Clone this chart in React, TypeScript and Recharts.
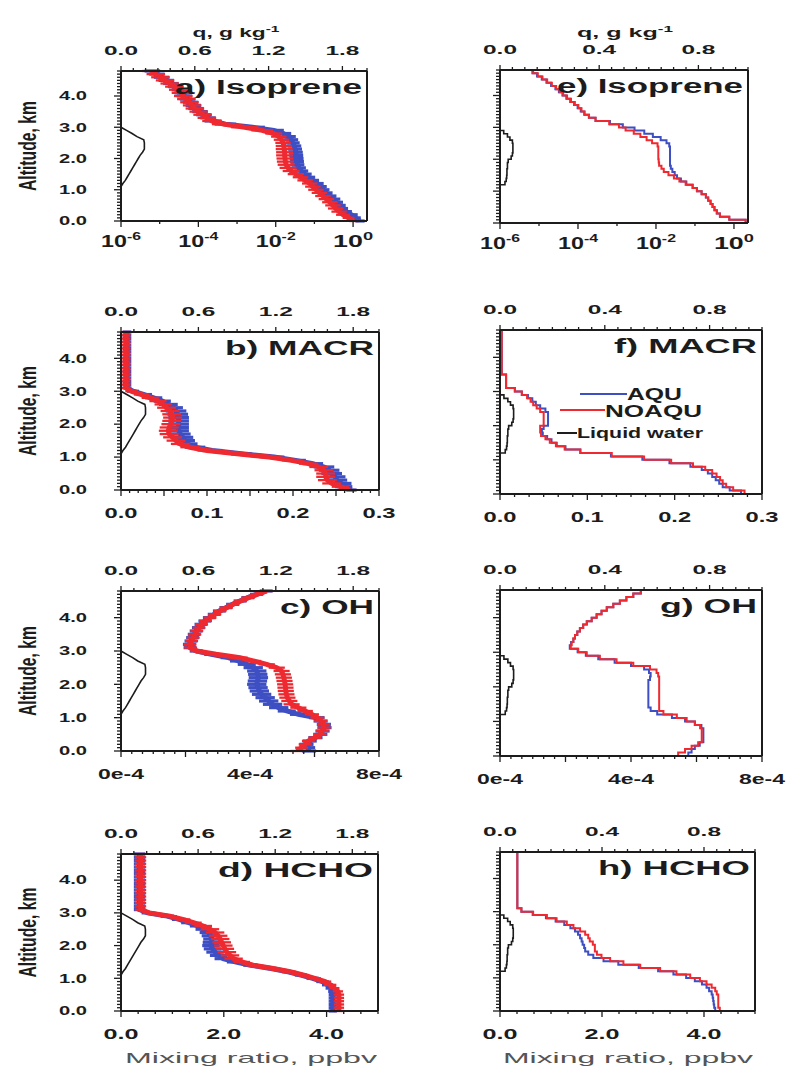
import React from "react";
import { ComposedChart, Line, XAxis, YAxis, ErrorBar } from "recharts";

// ---------------- data (altitude levels, km) ----------------
const ALT = [
  0.0, 0.1, 0.2, 0.3, 0.4, 0.5, 0.6, 0.7, 0.8, 0.9,
  1.0, 1.1, 1.2, 1.3, 1.4, 1.5, 1.6, 1.7, 1.8, 1.9,
  2.0, 2.1, 2.2, 2.3, 2.4, 2.5, 2.6, 2.7, 2.8, 2.9,
  3.0, 3.1, 3.2, 3.3, 3.4, 3.5, 3.6, 3.7, 3.8, 3.9,
  4.0, 4.1, 4.2, 4.3, 4.4, 4.5, 4.6, 4.7, 4.8,
];

// Isoprene (log10 of ppbv) – left panel mean & spread (decades)
const ISO_L_AQU = [
  0.18, 0.06, -0.04, -0.2, -0.3, -0.36, -0.43, -0.5, -0.6, -0.7,
  -0.78, -0.85, -0.93, -1.05, -1.15, -1.25, -1.34, -1.4, -1.44, -1.45,
  -1.46, -1.47, -1.48, -1.5, -1.52, -1.56, -1.6, -1.66, -1.8, -2.05,
  -2.6, -3.3, -3.62, -3.75, -3.86, -3.96, -4.06, -4.13, -4.2, -4.28,
  -4.36, -4.42, -4.49, -4.59, -4.71, -4.83, -4.95, -5.07, -5.19,
];
const ISO_L_NOAQU = [
  0.02, -0.12, -0.26, -0.36, -0.45, -0.52, -0.6, -0.69, -0.78, -0.87,
  -0.96, -1.04, -1.12, -1.24, -1.36, -1.48, -1.6, -1.68, -1.73, -1.75,
  -1.76, -1.77, -1.77, -1.78, -1.79, -1.81, -1.85, -1.92, -2.05, -2.35,
  -2.8, -3.35, -3.65, -3.78, -3.89, -3.99, -4.09, -4.16, -4.23, -4.31,
  -4.39, -4.45, -4.52, -4.62, -4.74, -4.86, -4.98, -5.1, -5.22,
];
const ISO_L_AQU_ERR = [
  0.12, 0.14, 0.16, 0.17, 0.17, 0.17, 0.17, 0.17, 0.17, 0.17,
  0.17, 0.17, 0.17, 0.17, 0.17, 0.18, 0.18, 0.18, 0.18, 0.18,
  0.18, 0.18, 0.18, 0.18, 0.18, 0.18, 0.18, 0.18, 0.2, 0.26,
  0.32, 0.28, 0.22, 0.2, 0.2, 0.2, 0.2, 0.2, 0.2, 0.2,
  0.2, 0.2, 0.2, 0.2, 0.2, 0.2, 0.2, 0.2, 0.2,
];
const ISO_L_NOAQU_ERR = [
  0.12, 0.15, 0.18, 0.2, 0.2, 0.2, 0.2, 0.2, 0.2, 0.2,
  0.2, 0.2, 0.2, 0.2, 0.2, 0.21, 0.22, 0.22, 0.22, 0.22,
  0.22, 0.22, 0.22, 0.22, 0.21, 0.2, 0.2, 0.2, 0.22, 0.28,
  0.35, 0.3, 0.25, 0.24, 0.24, 0.24, 0.24, 0.24, 0.24, 0.24,
  0.24, 0.24, 0.24, 0.24, 0.24, 0.24, 0.24, 0.24, 0.24,
];
const ISO_R_AQU = [
  0.3, -0.12, -0.36, -0.44, -0.5, -0.55, -0.6, -0.66, -0.72, -0.83,
  -0.95, -1.06, -1.22, -1.36, -1.46, -1.52, -1.58, -1.62, -1.64, -1.64,
  -1.64, -1.64, -1.64, -1.64, -1.66, -1.73, -1.88, -2.08, -2.3, -2.55,
  -2.85, -3.18, -3.55, -3.72, -3.84, -3.93, -4.01, -4.1, -4.2, -4.3,
  -4.4, -4.49, -4.58, -4.69, -4.81, -4.93, -5.05, -5.17, -5.29,
];
const ISO_R_NOAQU = [
  0.3, -0.12, -0.36, -0.44, -0.5, -0.55, -0.6, -0.66, -0.72, -0.83,
  -0.95, -1.06, -1.24, -1.4, -1.54, -1.68, -1.8, -1.86, -1.92, -1.93,
  -1.94, -1.94, -1.94, -1.94, -1.96, -2.1, -2.24, -2.4, -2.57, -2.78,
  -2.95, -3.2, -3.55, -3.72, -3.83, -3.91, -3.99, -4.08, -4.18, -4.28,
  -4.38, -4.47, -4.56, -4.67, -4.79, -4.91, -5.03, -5.15, -5.27,
];

// MACR (ppbv)
const MACR_L_AQU = [
  0.268, 0.259, 0.256, 0.251, 0.249, 0.245, 0.242, 0.236, 0.223, 0.203,
  0.178, 0.14, 0.106, 0.086, 0.077, 0.074, 0.072, 0.069, 0.067, 0.067,
  0.067, 0.067, 0.067, 0.066, 0.064, 0.061, 0.055, 0.048, 0.038, 0.027,
  0.014, 0.007, 0.007, 0.007, 0.007, 0.007, 0.007, 0.007, 0.007, 0.007,
  0.007, 0.007, 0.007, 0.007, 0.007, 0.007, 0.007, 0.007, 0.007,
];
const MACR_L_NOAQU = [
  0.266, 0.255, 0.245, 0.24, 0.238, 0.238, 0.236, 0.23, 0.218, 0.198,
  0.172, 0.135, 0.1, 0.08, 0.069, 0.064, 0.06, 0.056, 0.055, 0.056,
  0.058, 0.059, 0.06, 0.059, 0.057, 0.053, 0.049, 0.043, 0.034, 0.024,
  0.012, 0.006, 0.006, 0.006, 0.006, 0.006, 0.006, 0.006, 0.006, 0.006,
  0.006, 0.006, 0.006, 0.006, 0.006, 0.006, 0.006, 0.006, 0.006,
];
const MACR_L_AQU_ERR = [
  0.006, 0.01, 0.012, 0.012, 0.012, 0.012, 0.012, 0.012, 0.012, 0.012,
  0.012, 0.012, 0.012, 0.012, 0.012, 0.012, 0.012, 0.012, 0.012, 0.012,
  0.012, 0.012, 0.012, 0.012, 0.012, 0.011, 0.011, 0.01, 0.01, 0.009,
  0.007, 0.005, 0.005, 0.005, 0.005, 0.005, 0.005, 0.005, 0.005, 0.005,
  0.005, 0.005, 0.005, 0.005, 0.005, 0.005, 0.005, 0.005, 0.005,
];
const MACR_L_NOAQU_ERR = [
  0.006, 0.01, 0.011, 0.011, 0.011, 0.011, 0.011, 0.011, 0.011, 0.011,
  0.011, 0.011, 0.011, 0.011, 0.011, 0.011, 0.011, 0.011, 0.011, 0.011,
  0.011, 0.011, 0.011, 0.011, 0.011, 0.011, 0.01, 0.01, 0.01, 0.009,
  0.007, 0.005, 0.005, 0.005, 0.005, 0.005, 0.005, 0.005, 0.005, 0.005,
  0.005, 0.005, 0.005, 0.005, 0.005, 0.005, 0.005, 0.005, 0.005,
];
const MACR_R_AQU = [
  0.276, 0.263, 0.255, 0.251, 0.247, 0.243, 0.238, 0.231, 0.218, 0.194,
  0.163, 0.127, 0.092, 0.075, 0.065, 0.059, 0.054, 0.049, 0.048, 0.05,
  0.055, 0.055, 0.055, 0.055, 0.052, 0.046, 0.041, 0.037, 0.032, 0.025,
  0.017, 0.007, 0.007, 0.007, 0.007, 0.002, 0.002, 0.002, 0.002, 0.002,
  0.002, 0.002, 0.002, 0.002, 0.002, 0.002, 0.002, 0.002, 0.002,
];
const MACR_R_NOAQU = [
  0.28, 0.267, 0.259, 0.255, 0.252, 0.248, 0.243, 0.235, 0.221, 0.196,
  0.165, 0.128, 0.092, 0.074, 0.064, 0.057, 0.052, 0.047, 0.046, 0.046,
  0.05, 0.05, 0.05, 0.05, 0.046, 0.042, 0.038, 0.035, 0.031, 0.025,
  0.017, 0.007, 0.007, 0.007, 0.007, 0.002, 0.002, 0.002, 0.002, 0.002,
  0.002, 0.002, 0.002, 0.002, 0.002, 0.002, 0.002, 0.002, 0.002,
];

// OH (units of 1e-4 ppbv)
const OH_L_AQU = [
  5.83, 5.8, 5.75, 5.85, 6.03, 6.18, 6.25, 6.31, 6.29, 6.19,
  6.07, 5.5, 5.14, 4.89, 4.7, 4.58, 4.47, 4.36, 4.29, 4.25,
  4.21, 4.23, 4.26, 4.24, 4.21, 4.1, 3.9, 3.64, 3.33, 2.8,
  2.33, 2.14, 2.12, 2.17, 2.22, 2.27, 2.33, 2.4, 2.48, 2.6,
  2.74, 2.89, 3.05, 3.25, 3.46, 3.69, 3.93, 4.2, 4.5,
];
const OH_L_NOAQU = [
  5.45, 5.6, 5.71, 5.81, 6.01, 6.17, 6.24, 6.3, 6.28, 6.19,
  6.09, 5.92, 5.71, 5.5, 5.29, 5.22, 5.16, 5.13, 5.11, 5.1,
  5.09, 5.07, 5.05, 5.02, 4.98, 4.83, 4.52, 4.1, 3.69, 2.95,
  2.35, 2.16, 2.14, 2.19, 2.24, 2.29, 2.35, 2.42, 2.5, 2.62,
  2.76, 2.91, 3.07, 3.27, 3.48, 3.71, 3.95, 4.22, 4.52,
];
const OH_L_AQU_ERR = [
  0.22, 0.22, 0.22, 0.22, 0.22, 0.22, 0.22, 0.22, 0.22, 0.22,
  0.24, 0.26, 0.28, 0.3, 0.3, 0.3, 0.3, 0.3, 0.3, 0.3,
  0.3, 0.3, 0.3, 0.3, 0.3, 0.3, 0.28, 0.26, 0.24, 0.22,
  0.2, 0.2, 0.2, 0.2, 0.2, 0.2, 0.2, 0.2, 0.2, 0.2,
  0.2, 0.2, 0.2, 0.2, 0.2, 0.2, 0.2, 0.2, 0.2,
];
const OH_L_NOAQU_ERR = [
  0.2, 0.2, 0.2, 0.2, 0.2, 0.2, 0.2, 0.2, 0.2, 0.2,
  0.22, 0.22, 0.24, 0.25, 0.25, 0.25, 0.25, 0.25, 0.25, 0.25,
  0.25, 0.25, 0.25, 0.25, 0.25, 0.25, 0.25, 0.25, 0.24, 0.22,
  0.2, 0.2, 0.2, 0.2, 0.2, 0.2, 0.2, 0.2, 0.2, 0.2,
  0.2, 0.2, 0.2, 0.2, 0.2, 0.2, 0.2, 0.2, 0.2,
];
const OH_R_AQU = [
  5.75, 5.85, 5.95, 6.1, 6.21, 6.21, 6.21, 6.21, 6.15, 5.95,
  5.65, 5.25, 4.8, 4.6, 4.53, 4.53, 4.53, 4.53, 4.53, 4.53,
  4.53, 4.53, 4.58, 4.6, 4.55, 4.4, 4.0, 3.5, 3.0, 2.62,
  2.37, 2.13, 2.17, 2.24, 2.29, 2.36, 2.44, 2.54, 2.65, 2.8,
  2.95, 3.1, 3.26, 3.46, 3.66, 3.86, 4.07, 4.3, 4.53,
];
const OH_R_NOAQU = [
  5.44, 5.65, 5.85, 6.05, 6.16, 6.16, 6.16, 6.16, 6.11, 5.95,
  5.7, 5.4, 4.99, 4.86, 4.86, 4.86, 4.86, 4.86, 4.86, 4.86,
  4.86, 4.86, 4.86, 4.83, 4.78, 4.58, 4.07, 3.56, 3.05, 2.65,
  2.39, 2.16, 2.19, 2.24, 2.29, 2.36, 2.44, 2.54, 2.65, 2.8,
  2.95, 3.1, 3.26, 3.46, 3.66, 3.86, 4.07, 4.3, 4.53,
];

// HCHO (ppbv)
const HCHO_L_AQU = [
  4.12, 4.12, 4.12, 4.12, 4.12, 4.12, 4.12, 4.08, 4.02, 3.92,
  3.73, 3.5, 3.25, 2.92, 2.52, 2.22, 1.99, 1.9, 1.83, 1.78,
  1.75, 1.76, 1.77, 1.74, 1.7, 1.61, 1.5, 1.32, 1.13, 0.9,
  0.52, 0.36, 0.36, 0.36, 0.36, 0.36, 0.36, 0.36, 0.36, 0.36,
  0.36, 0.36, 0.36, 0.36, 0.36, 0.36, 0.36, 0.36, 0.36,
];
const HCHO_L_NOAQU = [
  4.24, 4.24, 4.24, 4.24, 4.24, 4.24, 4.22, 4.15, 4.07, 3.97,
  3.77, 3.54, 3.29, 2.96, 2.57, 2.35, 2.19, 2.12, 2.06, 2.02,
  1.99, 1.96, 1.93, 1.89, 1.83, 1.73, 1.6, 1.41, 1.2, 0.95,
  0.55, 0.38, 0.38, 0.38, 0.38, 0.38, 0.38, 0.38, 0.38, 0.38,
  0.38, 0.38, 0.38, 0.38, 0.38, 0.38, 0.38, 0.38, 0.38,
];
const HCHO_L_AQU_ERR = [
  0.08, 0.08, 0.08, 0.08, 0.08, 0.08, 0.09, 0.1, 0.11, 0.12,
  0.12, 0.12, 0.12, 0.12, 0.14, 0.16, 0.17, 0.17, 0.17, 0.17,
  0.17, 0.17, 0.17, 0.17, 0.17, 0.16, 0.16, 0.15, 0.14, 0.13,
  0.12, 0.11, 0.11, 0.11, 0.11, 0.11, 0.11, 0.11, 0.11, 0.11,
  0.11, 0.11, 0.11, 0.11, 0.11, 0.11, 0.11, 0.11, 0.11,
];
const HCHO_L_NOAQU_ERR = [
  0.1, 0.1, 0.1, 0.1, 0.1, 0.1, 0.1, 0.1, 0.12, 0.12,
  0.12, 0.12, 0.12, 0.12, 0.14, 0.16, 0.18, 0.18, 0.18, 0.18,
  0.18, 0.18, 0.18, 0.18, 0.18, 0.18, 0.17, 0.16, 0.15, 0.14,
  0.12, 0.11, 0.11, 0.11, 0.11, 0.11, 0.11, 0.11, 0.11, 0.11,
  0.11, 0.11, 0.11, 0.11, 0.11, 0.11, 0.11, 0.11, 0.11,
];
const HCHO_R_AQU = [
  4.22, 4.2, 4.19, 4.18, 4.17, 4.15, 4.1, 4.05, 3.96, 3.82,
  3.65, 3.4, 3.1, 2.72, 2.32, 2.03, 1.83, 1.73, 1.67, 1.65,
  1.62, 1.6, 1.57, 1.53, 1.47, 1.38, 1.26, 1.09, 0.9, 0.64,
  0.42, 0.34, 0.34, 0.34, 0.34, 0.34, 0.34, 0.34, 0.34, 0.34,
  0.34, 0.34, 0.34, 0.34, 0.34, 0.34, 0.34, 0.34, 0.34,
];
const HCHO_R_NOAQU = [
  4.31, 4.28, 4.28, 4.28, 4.28, 4.25, 4.22, 4.15, 4.05, 3.92,
  3.73, 3.46, 3.14, 2.75, 2.42, 2.16, 1.99, 1.9, 1.86, 1.86,
  1.82, 1.76, 1.73, 1.67, 1.57, 1.44, 1.31, 1.11, 0.92, 0.65,
  0.42, 0.34, 0.34, 0.34, 0.34, 0.34, 0.34, 0.34, 0.34, 0.34,
  0.34, 0.34, 0.34, 0.34, 0.34, 0.34, 0.34, 0.34, 0.34,
];

// Liquid water, q (g/kg)
const N = null;
const LW_LEFT = [
  N, N, N, N, N, N, N, N, N, N,
  N, 0, 0.015, 0.035, 0.05, 0.065, 0.08, 0.095, 0.11, 0.125,
  0.14, 0.155, 0.175, 0.19, 0.19, 0.19, 0.185, 0.13, 0.09, 0.045,
  0, N, N, N, N, N, N, N, N, N,
  N, N, N, N, N, N, N, N, N,
];
const LW_RIGHT = [
  N, N, N, N, N, N, N, N, N, N,
  N, 0, 0.02, 0.025, 0.027, 0.028, 0.028, 0.03, 0.03, 0.033,
  0.045, 0.05, 0.052, 0.052, 0.052, 0.05, 0.04, 0.03, 0.015, 0,
  N, N, N, N, N, N, N, N, N, N,
  N, N, N, N, N, N, N, N, N,
];

// tick labels
const ALT_LABELS = [0, 1, 2, 3, 4];
const ISO_LABELS = [1e-6, 1e-4, 1e-2, 1];
const ISO_TICKS = [1e-6, 1e-5, 1e-4, 1e-3, 1e-2, 1e-1, 1];
const MACR_LABELS = [0, 0.1, 0.2, 0.3];
const OH_LABELS = [0, 4, 8];
const HCHO_LABELS = [0, 2, 4];
const Q_LEFT_LABELS = [0, 0.6, 1.2, 1.8];
const Q_RIGHT_LABELS = [0, 0.4, 0.8];

// ---------------- styling helpers ----------------
const BLUE = "#3d4fc2";
const RED = "#ee2a30";
const INK = "#1c1c1c";
const FONT = '"Liberation Sans", Arial, Helvetica, sans-serif';

function ticksBetween(a: number, b: number, n: number): number[] {
  const out: number[] = [];
  for (let i = 0; i <= n; i++) out.push(Math.round((a + ((b - a) * i) / n) * 1e6) / 1e6);
  return out;
}
const has = (arr: number[], v: number) =>
  arr.some((a) => Math.abs(a - v) <= 1e-6 * Math.max(Math.abs(a), 1e-9) + 1e-12);

function SText(props: any) {
  const { x, y, w, fs, anchor = "middle", weight = "bold", fill = INK, rotate, sup, children } = props;
  return (
    <text
      x={x}
      y={y}
      fontSize={fs}
      fontFamily={FONT}
      fontWeight={weight}
      fill={fill}
      textAnchor={anchor}
      textLength={w}
      lengthAdjust="spacingAndGlyphs"
      transform={rotate ? `rotate(${rotate} ${x} ${y})` : undefined}
    >
      {children}
      {sup ? (
        <tspan dy={-fs * 0.42} fontSize={fs * 0.68}>
          {sup}
        </tspan>
      ) : null}
    </text>
  );
}

type AxisCfg = {
  domain: [number, number];
  log?: boolean;
  ticks: number[];
  majors: number[];
  labels: number[];
  fmt: (v: number) => { main: string; sup?: string };
  w: number;
  fs: number;
  dy: number;
};

const dec1 = (v: number) => ({ main: v.toFixed(1) });
const ISO_AXIS: AxisCfg = {
  domain: [1e-6, 2.29], log: true, ticks: ISO_TICKS, majors: ISO_LABELS, labels: ISO_LABELS,
  fmt: (v) => ({ main: "10", sup: String(Math.round(Math.log10(v))) }), w: 40, fs: 16.5, dy: 26,
};
const MACR_L_AXIS: AxisCfg = {
  domain: [0, 0.3], ticks: ticksBetween(0, 0.3, 30), majors: ticksBetween(0, 0.3, 6), labels: MACR_LABELS,
  fmt: dec1, w: 33, fs: 14.5, dy: 28,
};
const MACR_R_AXIS: AxisCfg = { ...MACR_L_AXIS, ticks: ticksBetween(0, 0.3, 18), majors: MACR_LABELS };
const OH_AXIS: AxisCfg = {
  domain: [0, 8], ticks: ticksBetween(0, 8, 24), majors: [0, 2, 4, 6, 8], labels: OH_LABELS,
  fmt: (v) => ({ main: `${Math.round(v)}e-4` }), w: 46, fs: 14.5, dy: 28,
};
const HCHO_AXIS: AxisCfg = {
  domain: [0, 5], ticks: ticksBetween(0, 5, 15), majors: HCHO_LABELS, labels: HCHO_LABELS,
  fmt: dec1, w: 35, fs: 14.5, dy: 28,
};
const Q_LEFT: AxisCfg = {
  domain: [0, 2], ticks: ticksBetween(0, 2, 20), majors: Q_LEFT_LABELS, labels: Q_LEFT_LABELS,
  fmt: dec1, w: 34, fs: 12.5, dy: -16,
};
const Q_RIGHT: AxisCfg = {
  domain: [0, 1], ticks: ticksBetween(0, 1, 20), majors: Q_RIGHT_LABELS, labels: Q_RIGHT_LABELS,
  fmt: dec1, w: 34, fs: 12.5, dy: -16,
};

function bandRows(aqu: number[], noaqu: number[], aquErr: number[], noaquErr: number[], log: boolean) {
  return ALT.map((alt, i) => {
    if (log) {
      const a = Math.pow(10, aqu[i]);
      const n = Math.pow(10, noaqu[i]);
      const ea = Math.pow(10, aquErr[i]);
      const en = Math.pow(10, noaquErr[i]);
      return { alt, aqu: a, noaqu: n, aquE: [a - a / ea, a * ea - a], noaquE: [n - n / en, n * en - n], lw: LW_LEFT[i] };
    }
    return { alt, aqu: aqu[i], noaqu: noaqu[i], aquE: aquErr[i], noaquE: noaquErr[i], lw: LW_LEFT[i] };
  });
}
function lineRows(aqu: number[], noaqu: number[], log: boolean) {
  return ALT.map((alt, i) => ({
    alt,
    aqu: log ? Math.pow(10, aqu[i]) : aqu[i],
    noaqu: log ? Math.pow(10, noaqu[i]) : noaqu[i],
    lw: LW_RIGHT[i],
  }));
}

type Box = { x: number; y: number; w: number; h: number };
type PanelCfg = {
  cl: number;
  box: Box;
  rows: any[];
  band: boolean;
  bottom: AxisCfg;
  top: AxisCfg;
  yLabels: boolean;
  title: string;
  titleW: number;
  q?: { cx: number; w: number };
  mix?: { cx: number; w: number };
  legend?: boolean;
};

function Panel({ cfg }: { cfg: PanelCfg }) {
  const { cl, box } = cfg;
  const T = 60;
  const R = 30;
  const B = cfg.mix ? 58 : 40;
  const L = box.x - cl;
  const ct = box.y - T;
  const W = L + box.w + R;
  const H = T + box.h + B;
  const rx = (ax: number) => ax - cl;
  const ry = (ay: number) => ay - ct;
  const axisLine = { stroke: INK, strokeWidth: 2 };

  const bottomTick = (p: any) => {
    const { x, y, payload } = p;
    const v = payload.value as number;
    const major = has(cfg.bottom.majors, v);
    const lab = has(cfg.bottom.labels, v);
    const f = cfg.bottom.fmt(v);
    return (
      <g>
        <line x1={x} x2={x} y1={y} y2={y + (major ? 6 : 3)} stroke={INK} strokeWidth={1.3} />
        {lab ? (
          <SText x={x} y={y + cfg.bottom.dy} w={cfg.bottom.w} fs={cfg.bottom.fs} sup={f.sup}>
            {f.main}
          </SText>
        ) : null}
      </g>
    );
  };
  const topTick = (p: any) => {
    const { x, y, payload } = p;
    const v = payload.value as number;
    const major = has(cfg.top.majors, v);
    const lab = has(cfg.top.labels, v);
    return (
      <g>
        <line x1={x} x2={x} y1={y} y2={y - (major ? 5 : 3)} stroke={INK} strokeWidth={1.3} />
        {lab ? (
          <SText x={x} y={y + cfg.top.dy} w={cfg.top.w} fs={cfg.top.fs}>
            {cfg.top.fmt(v).main}
          </SText>
        ) : null}
      </g>
    );
  };
  const leftTick = (p: any) => {
    const { x, y, payload } = p;
    const v = payload.value as number;
    const major = has(ALT_LABELS, v);
    return (
      <g>
        <line x1={x - (major ? 7 : 4)} x2={x} y1={y} y2={y} stroke={INK} strokeWidth={1.3} />
        {cfg.yLabels && major ? (
          <SText x={x - 34} y={y + 4.3} w={28} fs={12} anchor="end">
            {v.toFixed(1)}
          </SText>
        ) : null}
      </g>
    );
  };

  const titleLayer = () => (
    <g>
      <SText x={rx(box.x + box.w - 5)} y={ry(box.y + 23)} w={cfg.titleW} fs={20} anchor="end">
        {cfg.title}
      </SText>
      {cfg.legend ? (
        <g>
          <line x1={rx(580)} x2={rx(627)} y1={ry(394)} y2={ry(394)} stroke={BLUE} strokeWidth={2} />
          <SText x={rx(627)} y={ry(400)} w={55} fs={16} anchor="start">AQU</SText>
          <line x1={rx(560)} x2={rx(605)} y1={ry(410)} y2={ry(410)} stroke={RED} strokeWidth={2} />
          <SText x={rx(605)} y={ry(417)} w={97} fs={16} anchor="start">NOAQU</SText>
          <line x1={rx(557)} x2={rx(577)} y1={ry(433)} y2={ry(433)} stroke={INK} strokeWidth={2} />
          <SText x={rx(577)} y={ry(438)} w={126} fs={15} anchor="start">Liquid water</SText>
        </g>
      ) : null}
    </g>
  );

  return (
    <div style={{ position: "absolute", left: cl, top: ct }}>
      <ComposedChart width={W} height={H} data={cfg.rows} layout="vertical" margin={{ top: 0, right: 0, bottom: 0, left: 0 }}>
        <XAxis
          xAxisId="b"
          orientation="bottom"
          type="number"
          scale={cfg.bottom.log ? "log" : "linear"}
          domain={cfg.bottom.domain}
          allowDataOverflow
          ticks={cfg.bottom.ticks}
          interval={0}
          height={B}
          tickLine={false}
          tickSize={0}
          tickMargin={0}
          tick={bottomTick}
          axisLine={axisLine}
          label={
            cfg.mix
              ? () => (
                  <SText x={rx(cfg.mix!.cx)} y={ry(1063)} w={cfg.mix!.w} fs={15} weight="normal" fill="#555">
                    Mixing ratio, ppbv
                  </SText>
                )
              : undefined
          }
        />
        <XAxis
          xAxisId="t"
          orientation="top"
          type="number"
          domain={cfg.top.domain}
          allowDataOverflow
          ticks={cfg.top.ticks}
          interval={0}
          height={T}
          tickLine={false}
          tickSize={0}
          tickMargin={0}
          tick={topTick}
          axisLine={axisLine}
          label={
            cfg.q
              ? () => (
                  <SText x={rx(cfg.q!.cx)} y={ry(37)} w={cfg.q!.w} fs={12.5} sup="-1">
                    q, g kg
                  </SText>
                )
              : undefined
          }
        />
        <YAxis
          yAxisId="y"
          dataKey="alt"
          type="number"
          orientation="left"
          domain={[0, 4.8]}
          allowDataOverflow
          reversed
          ticks={ticksBetween(0, 4.8, 48)}
          interval={0}
          width={L}
          tickLine={false}
          tickSize={0}
          tickMargin={0}
          tick={leftTick}
          axisLine={axisLine}
          label={
            cfg.yLabels
              ? () => (
                  <SText x={36} y={T + box.h / 2} w={90} fs={23} rotate={-90}>
                    Altitude, km
                  </SText>
                )
              : undefined
          }
        />
        <YAxis
          yAxisId="r"
          type="number"
          orientation="right"
          domain={[0, 4.8]}
          allowDataOverflow
          reversed
          width={R}
          tick={false}
          tickLine={false}
          axisLine={axisLine}
          label={titleLayer}
        />
        <Line
          xAxisId="t"
          yAxisId="y"
          dataKey="lw"
          type={cfg.band ? "linear" : "stepBefore"}
          stroke={INK}
          strokeWidth={1.6}
          dot={false}
          activeDot={false}
          isAnimationActive={false}
        />
        {cfg.band ? (
          <Line xAxisId="b" yAxisId="y" dataKey="aqu" type="linear" stroke={BLUE} strokeWidth={5} dot={false} activeDot={false} isAnimationActive={false}>
            <ErrorBar dataKey="aquE" direction="x" width={0} stroke={BLUE} strokeWidth={3.2} isAnimationActive={false} />
          </Line>
        ) : (
          <Line xAxisId="b" yAxisId="y" dataKey="aqu" type="stepBefore" stroke={BLUE} strokeWidth={2} dot={false} activeDot={false} isAnimationActive={false} />
        )}
        {cfg.band ? (
          <Line xAxisId="b" yAxisId="y" dataKey="noaqu" type="linear" stroke={RED} strokeWidth={5} dot={false} activeDot={false} isAnimationActive={false}>
            <ErrorBar dataKey="noaquE" direction="x" width={0} stroke={RED} strokeWidth={2.3} isAnimationActive={false} />
          </Line>
        ) : (
          <Line xAxisId="b" yAxisId="y" dataKey="noaqu" type="stepBefore" stroke={RED} strokeWidth={2} dot={false} activeDot={false} isAnimationActive={false} />
        )}
      </ComposedChart>
    </div>
  );
}

const PANELS: PanelCfg[] = [
  {
    cl: 0, box: { x: 121, y: 71, w: 246, h: 150 }, band: true,
    rows: bandRows(ISO_L_AQU, ISO_L_NOAQU, ISO_L_AQU_ERR, ISO_L_NOAQU_ERR, true),
    bottom: ISO_AXIS, top: Q_LEFT, yLabels: true, title: "a) Isoprene", titleW: 187, q: { cx: 236, w: 87 },
  },
  {
    cl: 400, box: { x: 500, y: 70, w: 248, h: 153 }, band: false,
    rows: lineRows(ISO_R_AQU, ISO_R_NOAQU, true),
    bottom: ISO_AXIS, top: Q_RIGHT, yLabels: false, title: "e) Isoprene", titleW: 186, q: { cx: 625, w: 96 },
  },
  {
    cl: 0, box: { x: 121, y: 332, w: 258, h: 158 }, band: true,
    rows: bandRows(MACR_L_AQU, MACR_L_NOAQU, MACR_L_AQU_ERR, MACR_L_NOAQU_ERR, false),
    bottom: MACR_L_AXIS, top: Q_LEFT, yLabels: true, title: "b) MACR", titleW: 149,
  },
  {
    cl: 400, box: { x: 500, y: 330, w: 262, h: 164 }, band: false,
    rows: lineRows(MACR_R_AQU, MACR_R_NOAQU, false),
    bottom: MACR_R_AXIS, top: Q_RIGHT, yLabels: false, title: "f) MACR", titleW: 143, legend: true,
  },
  {
    cl: 0, box: { x: 121, y: 591, w: 258, h: 160 }, band: true,
    rows: bandRows(OH_L_AQU, OH_L_NOAQU, OH_L_AQU_ERR, OH_L_NOAQU_ERR, false),
    bottom: OH_AXIS, top: Q_LEFT, yLabels: true, title: "c) OH", titleW: 94,
  },
  {
    cl: 400, box: { x: 500, y: 590, w: 262, h: 166 }, band: false,
    rows: lineRows(OH_R_AQU, OH_R_NOAQU, false),
    bottom: OH_AXIS, top: Q_RIGHT, yLabels: false, title: "g) OH", titleW: 97,
  },
  {
    cl: 0, box: { x: 121, y: 854, w: 257, h: 157 }, band: true,
    rows: bandRows(HCHO_L_AQU, HCHO_L_NOAQU, HCHO_L_AQU_ERR, HCHO_L_NOAQU_ERR, false),
    bottom: HCHO_AXIS, top: Q_LEFT, yLabels: true, title: "d) HCHO", titleW: 155, mix: { cx: 251, w: 252 },
  },
  {
    cl: 400, box: { x: 500, y: 852, w: 255, h: 159 }, band: false,
    rows: lineRows(HCHO_R_AQU, HCHO_R_NOAQU, false),
    bottom: HCHO_AXIS, top: Q_RIGHT, yLabels: false, title: "h) HCHO", titleW: 152, mix: { cx: 628, w: 250 },
  },
];

export default function App() {
  return (
    <div style={{ position: "absolute", left: 0, top: 0, width: 788, height: 1070, background: "#fff", overflow: "hidden" }}>
      {PANELS.map((p, i) => (
        <Panel key={i} cfg={p} />
      ))}
    </div>
  );
}
